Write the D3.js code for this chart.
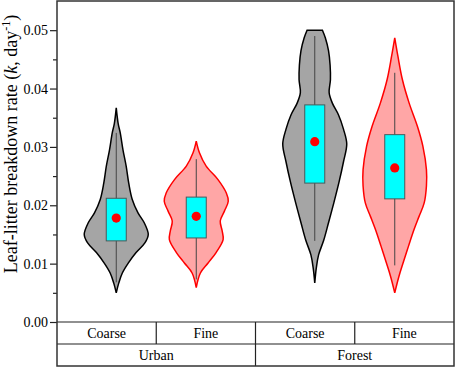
<!DOCTYPE html>
<html>
<head>
<meta charset="utf-8">
<script src="https://cdn.jsdelivr.net/npm/d3@7"></script>
<style>
  body { margin: 0; background: #fff; }
  svg text { font-family: "Times New Roman", "Liberation Serif", Times, serif !important; fill: #000; }
</style>
</head>
<body>
<div id="chart"></div>
<script>
// groups / size classes, in drawing order UC, UF, FC, FF
var groups = ["Urban", "Forest"];
var sizes = ["Coarse", "Fine"];
var yTicks = [0, 0.01, 0.02, 0.03, 0.04, 0.05];
var yMinor = [0.005, 0.015, 0.025, 0.035, 0.045];

// box stats
var q1 = [0.0139, 0.0144, 0.0238, 0.0211];
var q3 = [0.0212, 0.0214, 0.0372, 0.0321];
var means = [0.0178, 0.0181, 0.0309, 0.0264];
var whiskerLo = [0.0068, 0.0073, 0.0139, 0.0097];
var whiskerHi = [0.0324, 0.0279, 0.0490, 0.0427];

// violin outlines: [k, relative half-width]
var urbanCoarse = [[0.0367,0],[0.0340,0.06],[0.0324,0.125],[0.0295,0.21],[0.0267,0.31],[0.0238,0.39],[0.0210,0.5],[0.0187,0.68],[0.0170,0.875],[0.0150,1.0],[0.0136,0.9],[0.0119,0.62],[0.0101,0.375],[0.0084,0.19],[0.0067,0.08],[0.0050,0]];
var urbanFine = [[0.0310,0],[0.0290,0.10],[0.0267,0.31],[0.0244,0.68],[0.0221,0.94],[0.0207,1.0],[0.0190,0.88],[0.0173,0.75],[0.0156,0.81],[0.0141,0.84],[0.0119,0.62],[0.0101,0.37],[0.0084,0.13],[0.0059,0]];
var forestCoarse = [[0.0500,0.24],[0.0487,0.33],[0.0465,0.43],[0.0440,0.48],[0.0415,0.49],[0.0393,0.45],[0.0375,0.55],[0.0355,0.74],[0.0330,0.9],[0.0305,1.0],[0.0275,0.9],[0.0240,0.76],[0.0205,0.6],[0.0170,0.43],[0.0140,0.28],[0.0115,0.12],[0.0093,0.05],[0.0067,0]];
var forestFine = [[0.0487,0],[0.0455,0.10],[0.0415,0.24],[0.0375,0.45],[0.0335,0.71],[0.0301,0.88],[0.0261,0.99],[0.0233,0.99],[0.0204,0.92],[0.0181,0.76],[0.0158,0.6],[0.0130,0.43],[0.0101,0.26],[0.0078,0.13],[0.0050,0]];

var violins = [
  {group: "Urban", size: "Coarse", shape: urbanCoarse},
  {group: "Urban", size: "Fine", shape: urbanFine},
  {group: "Forest", size: "Coarse", shape: forestCoarse},
  {group: "Forest", size: "Fine", shape: forestFine}
].map((d, i) => Object.assign(d, {q1: q1[i], q3: q3[i], mean: means[i], lo: whiskerLo[i], hi: whiskerHi[i]}));

var width = 457,
    height = 369,
    plot = {left: 57, right: 454, top: 1, bottom: 322},
    rowH = 22,
    fills = {Coarse: "#a5a5a5", Fine: "#ffa6a6"},
    strokes = {Coarse: "#000", Fine: "#ff0000"};

var svg = d3.select("#chart").append("svg")
  .attr("width", width)
  .attr("height", height)
  .attr("font-family", "Times New Roman, Liberation Serif, serif");

var xGroup = d3.scaleBand().domain(groups).range([plot.left, plot.right]);
var xSize = d3.scaleBand().domain(sizes).range([0, xGroup.bandwidth()]);
var xViolin = d3.scalePoint().domain(sizes).range([xGroup.bandwidth() / 2 - 40, xGroup.bandwidth() / 2 + 40]);
var halfW = d3.scaleLinear().domain([0, 1]).range([0, 32]);
var y = d3.scaleLinear().domain([0, 0.055]).range([plot.bottom, plot.top]);

var cx = d => xGroup(d.group) + xViolin(d.size);

/* violins */
var g = svg.selectAll(".violin")
  .data(violins)
  .enter().append("g")
  .attr("class", "violin");

g.append("path")
  .attr("d", d => d3.area()
    .curve(d3.curveCatmullRom)
    .y(p => y(p[0]))
    .x0(p => cx(d) - halfW(p[1]))
    .x1(p => cx(d) + halfW(p[1]))(d.shape))
  .style("fill", d => fills[d.size])
  .style("stroke", d => strokes[d.size])
  .style("stroke-width", 1.5);

// whiskers
g.append("line")
  .attr("x1", cx).attr("x2", cx)
  .attr("y1", d => y(d.hi)).attr("y2", d => y(d.lo))
  .style("stroke", "#444")
  .style("stroke-width", 1);

// boxes
g.append("rect")
  .attr("x", d => cx(d) - 10)
  .attr("width", 20)
  .attr("y", d => y(d.q3))
  .attr("height", d => y(d.q1) - y(d.q3))
  .style("fill", "#00ffff")
  .style("stroke", "#4a5a5a")
  .style("stroke-width", 1);

// means
g.append("circle")
  .attr("cx", cx)
  .attr("cy", d => y(d.mean))
  .attr("r", 4.6)
  .style("fill", "#ff0000");

/* y axis */
var yAxis = d3.axisLeft(y).tickValues(yTicks).tickFormat(d3.format(".2f")).tickSize(7).tickSizeOuter(0);
var yAxisMinor = d3.axisLeft(y).tickValues(yMinor).tickFormat("").tickSize(4).tickSizeOuter(0);

var ya = svg.append("g")
  .attr("transform", `translate(${plot.left},0)`)
  .call(yAxis)
  .attr("font-family", null);
ya.select(".domain").remove();
ya.selectAll("line").style("stroke", "#222").style("stroke-width", 1.2);
ya.selectAll("text").style("font-size", "14px").attr("x", -9);

var ym = svg.append("g")
  .attr("transform", `translate(${plot.left},0)`)
  .call(yAxisMinor);
ym.select(".domain").remove();
ym.selectAll("line").style("stroke", "#222").style("stroke-width", 1.2);

var yLabel = svg.append("text")
  .attr("transform", "translate(17,144) rotate(-90)")
  .attr("text-anchor", "middle")
  .style("font-size", "18px");
yLabel.append("tspan").text("Leaf-litter breakdown rate (");
yLabel.append("tspan").style("font-style", "italic").text("k");
yLabel.append("tspan").text(", day");
yLabel.append("tspan").attr("dy", -7).style("font-size", "12px").text("-1");
yLabel.append("tspan").attr("dy", 7).text(")");

/* category table under the plot */
var table = svg.append("g").style("stroke", "#222").style("stroke-width", 1.2);
[plot.bottom, plot.bottom + rowH].forEach(v => {
  table.append("line").attr("x1", plot.left).attr("x2", plot.right).attr("y1", v).attr("y2", v);
});
// dividers between size cells
groups.forEach(gr => {
  sizes.slice(1).forEach(s => {
    var xx = xGroup(gr) + xSize(s);
    table.append("line").attr("x1", xx).attr("x2", xx).attr("y1", plot.bottom).attr("y2", plot.bottom + rowH);
  });
});
// dividers between groups
groups.slice(1).forEach(gr => {
  table.append("line").attr("x1", xGroup(gr)).attr("x2", xGroup(gr)).attr("y1", plot.bottom).attr("y2", plot.bottom + 2 * rowH);
});

groups.forEach(gr => {
  sizes.forEach(s => {
    svg.append("text")
      .attr("x", xGroup(gr) + xSize(s) + xSize.bandwidth() / 2)
      .attr("y", plot.bottom + 15.5)
      .attr("text-anchor", "middle")
      .style("font-size", "14px")
      .text(s);
  });
  svg.append("text")
    .attr("x", xGroup(gr) + xGroup.bandwidth() / 2)
    .attr("y", plot.bottom + rowH + 16)
    .attr("text-anchor", "middle")
    .style("font-size", "14px")
    .text(gr);
});

// outer frame
svg.append("rect")
  .attr("x", plot.left)
  .attr("y", plot.top)
  .attr("width", plot.right - plot.left)
  .attr("height", plot.bottom + 2 * rowH - plot.top)
  .style("fill", "none")
  .style("stroke", "#333")
  .style("stroke-width", 1.5);
</script>
</body>
</html>
